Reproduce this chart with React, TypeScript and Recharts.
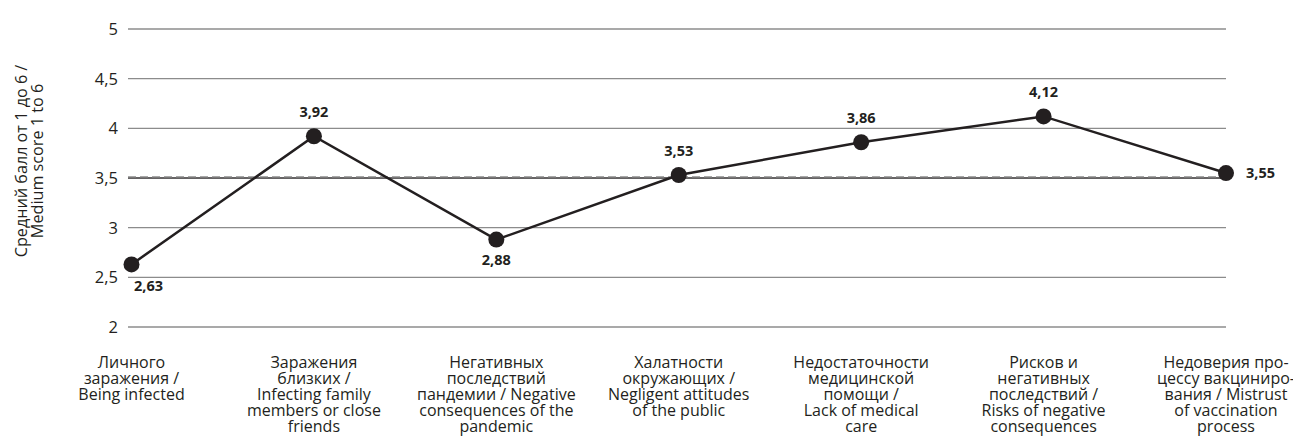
import React from "react";
import {
  LineChart,
  Line,
  XAxis,
  YAxis,
  CartesianGrid,
  ReferenceLine,
  LabelList,
} from "recharts";

const categories: string[][] = [
  ["Личного", "заражения /", "Being infected"],
  ["Заражения", "близких /", "Infecting family", "members or close", "friends"],
  ["Негативных", "последствий", "пандемии / Negative", "consequences of the", "pandemic"],
  ["Халатности", "окружающих /", "Negligent attitudes", "of the public"],
  ["Недостаточности", "медицинской", "помощи /", "Lack of medical", "care"],
  ["Рисков и", "негативных", "последствий /", "Risks of negative", "consequences"],
  ["Недоверия про-", "цессу вакциниро-", "вания / Mistrust", "of vaccination", "process"],
];

const scores: number[] = [2.63, 3.92, 2.88, 3.53, 3.86, 4.12, 3.55];

const yTicks: number[] = [2, 2.5, 3, 3.5, 4, 4.5, 5];

const threshold = 3.5;

const yAxisTitle: string[] = ["Средний балл от 1 до 6 /", "Medium score 1 to 6"];

// where each value label sits relative to its point
const labelPlacement: string[] = ["belowRight", "above", "below", "above", "above", "above", "right"];

const data = scores.map((v, i) => ({ key: String(i), value: v }));

const INK = "#231f20";
const FONT = "'Open Sans', 'Noto Sans', sans-serif";

const fmt = (v: number) => String(v).replace(".", ",");

const CategoryTick = (props: any) => {
  const { x, y, payload } = props;
  const lines = categories[Number(payload.value)] || [];
  return (
    <text
      x={x}
      y={y}
      textAnchor="middle"
      fontFamily={FONT}
      fontSize={16}
      fill={INK}
    >
      {lines.map((l, i) => (
        <tspan key={i} x={x} dy={i === 0 ? 33 : 16}>
          {l}
        </tspan>
      ))}
    </text>
  );
};

const ValueLabel = (props: any) => {
  const { x, y, value, index } = props;
  const p = labelPlacement[index];
  let tx = x;
  let ty = y;
  let anchor: "middle" | "start" = "middle";
  if (p === "above") {
    ty = y - 19;
  } else if (p === "below") {
    ty = y + 25;
  } else if (p === "belowRight") {
    tx = x + 17;
    ty = y + 27;
  } else if (p === "right") {
    tx = x + 20;
    ty = y + 5;
    anchor = "start";
  }
  return (
    <text
      x={tx}
      y={ty}
      textAnchor={anchor}
      fontFamily={FONT}
      fontWeight={700}
      fontSize={14.5}
      fill={INK}
    >
      {fmt(value)}
    </text>
  );
};

const AxisTitle = () => (
  <g>
    <text
      transform="translate(19,153) rotate(-90)"
      textAnchor="middle"
      fontFamily={FONT}
      fontSize={16.2}
      fill={INK}
    >
      {yAxisTitle[0]}
    </text>
    <text
      transform="translate(35,153) rotate(-90)"
      textAnchor="middle"
      fontFamily={FONT}
      fontSize={16.2}
      fill={INK}
    >
      {yAxisTitle[1]}
    </text>
  </g>
);

export default function App() {
  return (
    <div style={{ width: 1293, height: 436, background: "#fff" }}>
      <LineChart
        width={1293}
        height={436}
        data={data}
        margin={{ top: 21, right: 75, left: 0, bottom: 0 }}
        style={{ overflow: "visible" }}
      >
        <CartesianGrid vertical={false} stroke="#8c8c8c" strokeWidth={1.3} />
        <XAxis
          dataKey="key"
          axisLine={false}
          tickLine={false}
          height={117}
          interval={0}
          padding={{ left: 3.5, right: 0 }}
          tick={<CategoryTick />}
        />
        <YAxis
          domain={[2, 5]}
          ticks={yTicks}
          width={120}
          axisLine={false}
          tickLine={false}
          tickMargin={4}
          tickFormatter={fmt}
          tick={{ fontFamily: FONT, fontSize: 16.5, fill: INK }}
          label={{ content: () => <AxisTitle /> }}
        />
        <ReferenceLine y={threshold} stroke={INK} strokeWidth={1} />
        <ReferenceLine
          y={threshold + 0.012}
          stroke="#8c8c8c"
          strokeWidth={1.3}
          strokeDasharray="8 4"
        />
        <Line
          type="linear"
          dataKey="value"
          stroke={INK}
          strokeWidth={2.5}
          dot={{ r: 8, fill: INK, stroke: INK, strokeWidth: 0 }}
          activeDot={false}
          isAnimationActive={false}
        >
          <LabelList dataKey="value" content={<ValueLabel />} />
        </Line>
      </LineChart>
    </div>
  );
}
